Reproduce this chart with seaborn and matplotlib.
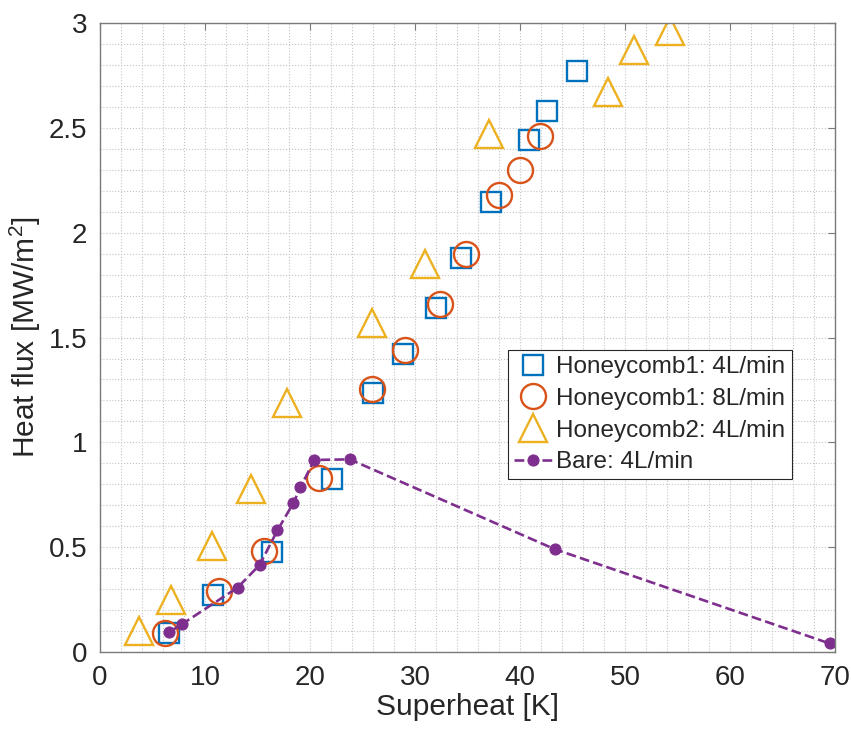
import numpy as np
import pandas as pd
import seaborn as sns
import matplotlib
matplotlib.use("Agg")
from matplotlib import pyplot as plt
from matplotlib.ticker import MultipleLocator, FuncFormatter

# values
hc1_4_x = [6.6, 10.8, 16.4, 22.1, 26.0, 28.9, 32.0, 34.4, 37.2, 40.9, 42.6, 45.4]
hc1_4_y = [0.092, 0.27, 0.478, 0.825, 1.234, 1.42, 1.64, 1.88, 2.147, 2.44, 2.58, 2.77]

hc1_8_x = [6.2, 11.3, 15.65, 20.9, 25.9, 29.05, 32.4, 34.9, 38.0, 40.0, 41.9]
hc1_8_y = [0.092, 0.29, 0.48, 0.83, 1.254, 1.44, 1.66, 1.90, 2.18, 2.30, 2.46]

hc2_4_x = [3.7, 6.8, 10.7, 14.4, 17.8, 25.9, 31.0, 37.1, 48.4, 50.9, 54.3]
hc2_4_y = [0.10, 0.25, 0.505, 0.78, 1.19, 1.57, 1.85, 2.47, 2.67, 2.87, 2.96]

bare_x = [6.6, 7.84, 13.1, 15.2, 16.9, 18.4, 19.1, 20.4, 23.8, 43.3, 69.5]
bare_y = [0.095, 0.134, 0.307, 0.415, 0.58, 0.709, 0.785, 0.916, 0.919, 0.491, 0.041]

labels = ["Honeycomb1: 4L/min", "Honeycomb1: 8L/min",
          "Honeycomb2: 4L/min", "Bare: 4L/min"]

sns.set_style("white")
plt.rcParams["font.family"] = ["Liberation Sans", "DejaVu Sans"]
plt.rcParams["mathtext.fontset"] = "custom"
plt.rcParams["mathtext.rm"] = "Liberation Sans"
plt.rcParams["mathtext.it"] = "Liberation Sans"

fig = plt.figure(figsize=(8.51, 7.31), dpi=100)
ax = fig.add_axes([0.1175, 0.108, 0.8635, 0.8605])

blue, orange, yellow, purple = "#0072BD", "#D95319", "#EDB120", "#7E2F8E"

d1 = pd.DataFrame({"x": hc1_4_x, "y": hc1_4_y})
d2 = pd.DataFrame({"x": hc1_8_x, "y": hc1_8_y})
d3 = pd.DataFrame({"x": hc2_4_x, "y": hc2_4_y})
d4 = pd.DataFrame({"x": bare_x, "y": bare_y})

sns.lineplot(data=d1, x="x", y="y", ax=ax, estimator=None, sort=False,
             linestyle="", marker="s", markersize=14, markerfacecolor="none",
             markeredgecolor=blue, markeredgewidth=1.7, color=blue, label=labels[0])
sns.lineplot(data=d2, x="x", y="y", ax=ax, estimator=None, sort=False,
             linestyle="", marker="o", markersize=18, markerfacecolor="none",
             markeredgecolor=orange, markeredgewidth=1.7, color=orange, label=labels[1])
sns.lineplot(data=d3, x="x", y="y", ax=ax, estimator=None, sort=False,
             linestyle="", marker="^", markersize=20.5, markerfacecolor="none",
             markeredgecolor=yellow, markeredgewidth=1.7, color=yellow, label=labels[2])
sns.lineplot(data=d4, x="x", y="y", ax=ax, estimator=None, sort=False,
             linestyle="--", dashes=(3.5, 2.5), linewidth=1.9, marker="o", markersize=8,
             markerfacecolor=purple, markeredgecolor=purple, color=purple,
             label=labels[3])

ax.set_xlim(0, 70)
ax.set_ylim(0, 3)
ax.xaxis.set_major_locator(MultipleLocator(10))
ax.xaxis.set_minor_locator(MultipleLocator(2))
ax.yaxis.set_major_locator(MultipleLocator(0.5))
ax.yaxis.set_minor_locator(MultipleLocator(0.1))
ax.yaxis.set_major_formatter(FuncFormatter(lambda v, p: "%g" % v))

ax.grid(True, which="both", linestyle=":", color="#c4c4c4", linewidth=0.8)
ax.set_axisbelow(True)
ax.tick_params(which="major", direction="in", length=5, width=0.8,
               top=True, right=True, colors="#7a7a7a", labelcolor="#262626",
               labelsize=20)
ax.tick_params(axis="x", which="major", pad=9)
ax.tick_params(axis="y", which="major", pad=9)
ax.tick_params(which="minor", length=0)
for s in ax.spines.values():
    s.set_color("#7a7a7a")
    s.set_linewidth(1.0)

ax.set_xlabel("Superheat [K]", fontsize=21.5, color="#262626", labelpad=2)
ax.set_ylabel("Heat flux [MW/m$^2$]", fontsize=21.5, color="#262626", labelpad=4)

leg = ax.legend(loc="upper left", bbox_to_anchor=(0.555, 0.48), fontsize=17.5,
                frameon=True, fancybox=False, edgecolor="#262626",
                handlelength=1.6, handletextpad=0.15, borderpad=0.25,
                labelspacing=0.4, borderaxespad=0, markerscale=1.0)
leg.get_frame().set_linewidth(0.8)
leg.get_frame().set_alpha(1)

fig.savefig("out.png", dpi=100)
